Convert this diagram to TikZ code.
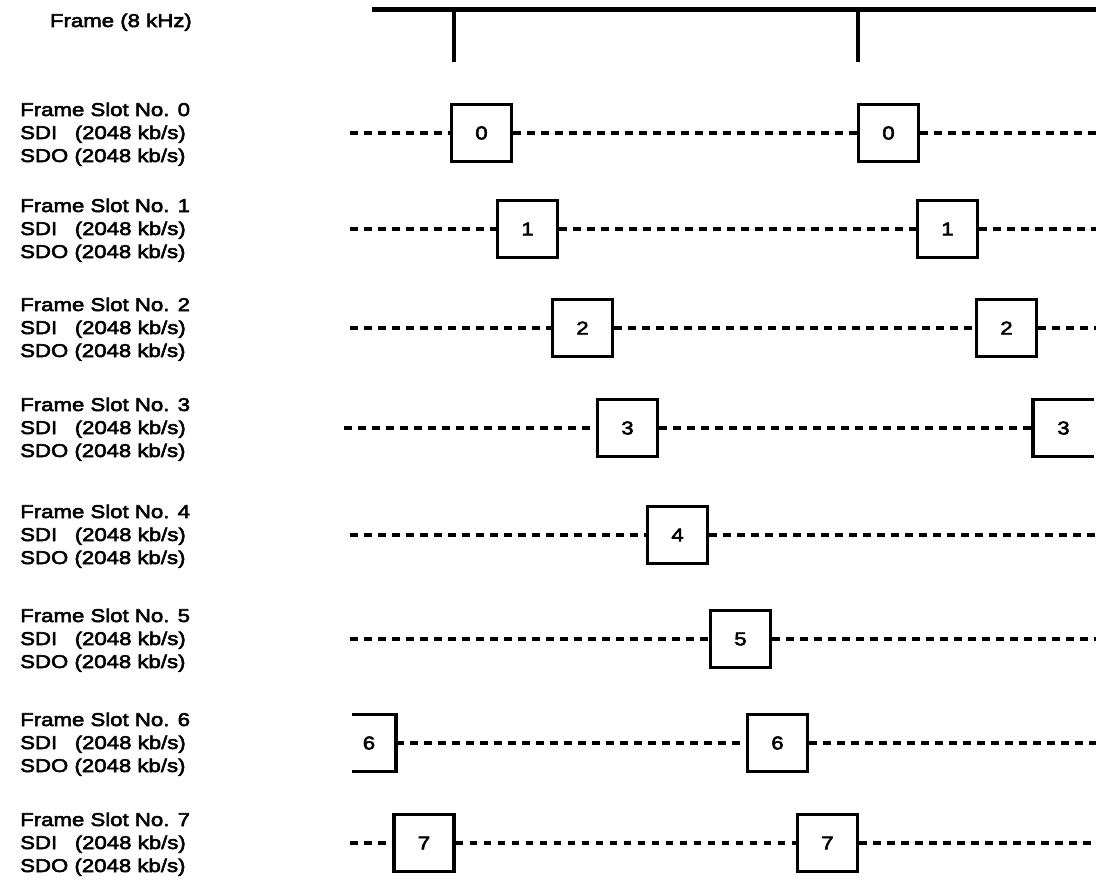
\documentclass[tikz,border=0pt]{standalone}
\usepackage{fontspec}
\setmainfont{Liberation Sans}[FakeStretch=1.2,FakeBold=3]
\begin{document}
\begin{tikzpicture}[x=1pt,y=-1pt,
  lbl/.style={anchor=base west,inner sep=0pt,font=\fontsize{18.5}{22}\selectfont},
  lble/.style={anchor=base east,inner sep=0pt,font=\fontsize{18.5}{22}\selectfont},
  slotbox/.style={draw,line width=3.1pt,minimum width=60pt,minimum height=57pt,inner sep=0pt,font=\fontsize{18.5}{22}\selectfont},
  numtext/.style={inner sep=0pt,font=\fontsize{18.5}{22}\selectfont},
  partbox/.style={line width=3.1pt},
  dashline/.style={line width=3.2pt,dash pattern=on 7.5pt off 6.5pt},
  frameline/.style={line width=5pt},
  tickline/.style={line width=4pt}]
\useasboundingbox (0,0) rectangle (1098,883);
% frame clock
\node[lble] (frm) at (192,27) {Frame (8 kHz)};
\coordinate (fl) at (372,10);
\coordinate (fr) at (1096,10);
\coordinate (t1a) at (454,10);
\coordinate (t1b) at (454,62);
\coordinate (t2a) at (858,10);
\coordinate (t2b) at (858,62);
\draw[frameline] (fl) -- (fr);
\draw[tickline] (t1a) -- (t1b);
\draw[tickline] (t2a) -- (t2b);
% labels
\foreach \r/\yy in {0/133,1/229,2/328,3/428,4/535,5/639,6/743,7/843}{
  \node[lbl] (fs\r) at (20,\yy-17) {Frame Slot No. \r};
  \node[lbl] (sdi\r) at (20,\yy+6) {SDI\hspace{0.95em}(2048 kb/s)};
  \node[lbl] (sdo\r) at (20,\yy+29) {SDO (2048 kb/s)};
}
% row 0
\node[slotbox] (b0a) at (481.5,133) {0};
\node[slotbox] (b0b) at (888.5,133) {0};
\coordinate (s0) at (350,133); \coordinate (e0) at (1096,133);
\draw[dashline] (s0) -- (b0a.west);
\draw[dashline] (b0a.east) -- (b0b.west);
\draw[dashline] (b0b.east) -- (e0);
% row 1
\node[slotbox] (b1a) at (527.5,229) {1};
\node[slotbox] (b1b) at (947.5,229) {1};
\coordinate (s1) at (350,229); \coordinate (e1) at (1096,229);
\draw[dashline] (s1) -- (b1a.west);
\draw[dashline] (b1a.east) -- (b1b.west);
\draw[dashline] (b1b.east) -- (e1);
% row 2
\node[slotbox] (b2a) at (582.5,328) {2};
\node[slotbox] (b2b) at (1006.5,328) {2};
\coordinate (s2) at (350,328); \coordinate (e2) at (1096,328);
\draw[dashline] (s2) -- (b2a.west);
\draw[dashline] (b2a.east) -- (b2b.west);
\draw[dashline] (b2b.east) -- (e2);
% row 3
\node[slotbox] (b3a) at (627.5,428) {3};
\node[numtext] (b3b) at (1063.5,428) {3};
\coordinate (p3w) at (1033,428);
\draw[partbox] (1094,399.5) -- (1033,399.5) -- (1033,456.5) -- (1094,456.5);
\coordinate (s3) at (344,428);
\draw[dashline] (s3) -- (b3a.west);
\draw[dashline] (b3a.east) -- (p3w);
% row 4
\node[slotbox] (b4a) at (677.5,535) {4};
\coordinate (s4) at (350,535); \coordinate (e4) at (1096,535);
\draw[dashline] (s4) -- (b4a.west);
\draw[dashline] (b4a.east) -- (e4);
% row 5
\node[slotbox] (b5a) at (740.5,639) {5};
\coordinate (s5) at (350,639); \coordinate (e5) at (1096,639);
\draw[dashline] (s5) -- (b5a.west);
\draw[dashline] (b5a.east) -- (e5);
% row 6
\node[numtext] (b6a) at (369,743) {6};
\coordinate (p6e) at (396,743);
\draw[partbox] (352,714.5) -- (396,714.5) -- (396,771.5) -- (352,771.5);
\node[slotbox] (b6b) at (777.5,743) {6};
\coordinate (e6) at (1096,743);
\draw[dashline] (p6e) -- (b6b.west);
\draw[dashline] (b6b.east) -- (e6);
% row 7
\node[slotbox] (b7a) at (424,843) {7};
\node[slotbox] (b7b) at (827.5,843) {7};
\coordinate (s7) at (350,843); \coordinate (e7) at (1096,843);
\draw[dashline] (s7) -- (b7a.west);
\draw[dashline] (b7a.east) -- (b7b.west);
\draw[dashline] (b7b.east) -- (e7);
\end{tikzpicture}
\end{document}
